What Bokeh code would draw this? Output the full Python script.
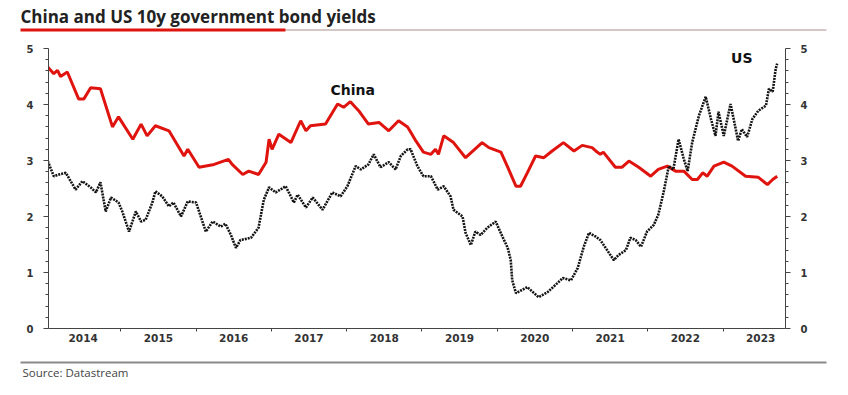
from bokeh.plotting import figure
from bokeh.models import FixedTicker, LinearAxis, Label, Range1d
from bokeh.layouts import column, row
from bokeh.embed import file_html
from bokeh.resources import INLINE

# ---------------- data (fractional years, yield %) ----------------
china_t = [2014.03, 2014.11, 2014.16, 2014.20, 2014.29, 2014.44, 2014.51, 2014.60, 2014.73,
           2014.89, 2014.97, 2015.16, 2015.27, 2015.35, 2015.46, 2015.64, 2015.84, 2015.89,
           2016.04, 2016.24, 2016.43, 2016.48, 2016.62, 2016.70, 2016.83, 2016.93, 2016.97,
           2017.01, 2017.10, 2017.26, 2017.39, 2017.46, 2017.52, 2017.72, 2017.88, 2017.96,
           2018.05, 2018.16, 2018.29, 2018.43, 2018.56, 2018.69, 2018.81, 2018.85, 2018.92,
           2019.02, 2019.12, 2019.18, 2019.22, 2019.29, 2019.42, 2019.58, 2019.80, 2019.89,
           2020.05, 2020.14, 2020.25, 2020.31, 2020.40, 2020.51, 2020.62, 2020.73, 2020.88,
           2021.02, 2021.13, 2021.26, 2021.31, 2021.37, 2021.41, 2021.57, 2021.66, 2021.75,
           2021.88, 2022.04, 2022.14, 2022.26, 2022.37, 2022.48, 2022.59, 2022.66, 2022.73,
           2022.79, 2022.88, 2023.01, 2023.12, 2023.30, 2023.47, 2023.59, 2023.66, 2023.72]
china_v = [4.67, 4.55, 4.61, 4.50, 4.58, 4.10, 4.10, 4.30, 4.28,
           3.60, 3.78, 3.38, 3.65, 3.44, 3.62, 3.53, 3.08, 3.20,
           2.88, 2.93, 3.02, 2.93, 2.75, 2.81, 2.75, 2.97, 3.38,
           3.20, 3.47, 3.32, 3.71, 3.53, 3.62, 3.65, 4.01, 3.95,
           4.05, 3.89, 3.65, 3.68, 3.53, 3.71, 3.60, 3.51, 3.35,
           3.15, 3.11, 3.20, 3.11, 3.44, 3.32, 3.05, 3.32, 3.23,
           3.15, 2.88, 2.54, 2.54, 2.78, 3.08, 3.05, 3.17, 3.32,
           3.17, 3.27, 3.23, 3.17, 3.11, 3.15, 2.88, 2.88, 2.99,
           2.88, 2.72, 2.84, 2.90, 2.81, 2.81, 2.66, 2.66, 2.78,
           2.72, 2.90, 2.97, 2.90, 2.72, 2.70, 2.57, 2.66, 2.72]

us_t = [2014.03, 2014.11, 2014.18, 2014.27, 2014.40, 2014.49, 2014.60, 2014.67, 2014.73,
        2014.80, 2014.87, 2014.97, 2015.02, 2015.11, 2015.20, 2015.27, 2015.33, 2015.42,
        2015.46, 2015.55, 2015.64, 2015.70, 2015.80, 2015.89, 2016.00, 2016.13, 2016.22,
        2016.33, 2016.39, 2016.46, 2016.53, 2016.59, 2016.73, 2016.83, 2016.90, 2016.97,
        2017.06, 2017.19, 2017.30, 2017.35, 2017.46, 2017.55, 2017.68, 2017.81, 2017.92,
        2018.01, 2018.12, 2018.19, 2018.29, 2018.36, 2018.45, 2018.56, 2018.65, 2018.72,
        2018.81, 2018.85, 2018.94, 2019.02, 2019.12, 2019.21, 2019.29, 2019.38, 2019.42,
        2019.54, 2019.58, 2019.65, 2019.71, 2019.78, 2019.87, 2019.98, 2020.07, 2020.14,
        2020.18, 2020.20, 2020.25, 2020.40, 2020.55, 2020.67, 2020.80, 2020.87, 2020.98,
        2021.07, 2021.15, 2021.22, 2021.31, 2021.37, 2021.46, 2021.55, 2021.61, 2021.71,
        2021.77, 2021.84, 2021.91, 2021.99, 2022.08, 2022.14, 2022.21, 2022.28, 2022.34,
        2022.41, 2022.48, 2022.53, 2022.59, 2022.68, 2022.77, 2022.84, 2022.90, 2022.94,
        2023.01, 2023.10, 2023.16, 2023.20, 2023.25, 2023.32, 2023.39, 2023.47, 2023.57,
        2023.61, 2023.66, 2023.70, 2023.72]
us_v = [2.99, 2.72, 2.75, 2.78, 2.48, 2.63, 2.52, 2.43, 2.61,
        2.09, 2.34, 2.25, 2.09, 1.73, 2.09, 1.91, 1.94, 2.25,
        2.45, 2.36, 2.18, 2.25, 2.00, 2.27, 2.25, 1.73, 1.91,
        1.82, 1.87, 1.68, 1.44, 1.58, 1.62, 1.80, 2.30, 2.52,
        2.43, 2.54, 2.25, 2.39, 2.16, 2.34, 2.12, 2.43, 2.36,
        2.54, 2.90, 2.84, 2.93, 3.11, 2.88, 2.97, 2.84, 3.08,
        3.20, 3.20, 2.90, 2.72, 2.72, 2.48, 2.54, 2.36, 2.12,
        2.00, 1.71, 1.49, 1.73, 1.67, 1.80, 1.91, 1.64, 1.44,
        1.22, 0.86, 0.63, 0.74, 0.56, 0.65, 0.81, 0.90, 0.86,
        1.08, 1.46, 1.71, 1.64, 1.58, 1.40, 1.22, 1.31, 1.40,
        1.62, 1.58, 1.46, 1.73, 1.85, 2.03, 2.43, 2.90, 2.84,
        3.38, 3.02, 2.81, 3.32, 3.80, 4.14, 3.74, 3.44, 3.87,
        3.44, 4.01, 3.62, 3.35, 3.56, 3.42, 3.74, 3.89, 3.98,
        4.28, 4.23, 4.64, 4.73]

year_labels = ["2014", "2015", "2016", "2017", "2018", "2019", "2020", "2021", "2022", "2023"]
y_ticks = [0, 1, 2, 3, 4, 5]

title_text = "China and US 10y government bond yields"
source_text = "Source: Datastream"

W = 840
RED = "#e0140f"

# ---------------- header (title + rules) ----------------
hdr = figure(width=W, height=40, output_backend="svg", toolbar_location=None,
             x_range=Range1d(0, W), y_range=Range1d(40, 0),
             x_axis_type=None, y_axis_type=None, min_border=0)
hdr.grid.visible = False
hdr.outline_line_color = None
hdr.add_layout(Label(x=20, y=16, text=title_text, text_font="Open Sans",
                     text_font_style="bold", text_font_size="17px", text_color="#222222",
                     text_baseline="alphabetic"))
hdr.segment(x0=[285], y0=[29.5], x1=[826], y1=[29.5], line_color="#c9b5b5", line_width=1.6)
hdr.segment(x0=[20], y0=[29.5], x1=[285], y1=[29.5], line_color=RED, line_width=3)

# ---------------- main chart ----------------
p = figure(width=W, height=315, output_backend="svg", toolbar_location=None,
           x_range=Range1d(2014.04, 2023.83), y_range=Range1d(0, 5),
           min_border_left=48, min_border_right=W - 785, min_border_top=8,
           min_border_bottom=27)
p.grid.visible = False
p.outline_line_color = None

p.line(china_t, china_v, line_color=RED, line_width=3)
p.line(us_t, us_v, line_color="#141414", line_width=2.6, line_dash="2 1")

first_year = int(year_labels[0])
label_pos = [first_year + i + 0.5 for i in range(len(year_labels))]
bounds = [first_year + i for i in range(1, len(year_labels) + 1)]
xa = p.xaxis[0]
xa.ticker = FixedTicker(ticks=label_pos, minor_ticks=bounds)
xa.major_label_overrides = {pos: lab for pos, lab in zip(label_pos, year_labels)}
xa.major_tick_in = 0
xa.major_tick_out = 0
xa.minor_tick_in = 0
xa.minor_tick_out = 3
xa.axis_line_color = "#444444"
xa.minor_tick_line_color = "#444444"
xa.major_label_text_font = "DejaVu Sans"
xa.major_label_text_font_style = "bold"
xa.major_label_text_font_size = "10.5px"
xa.major_label_text_color = "#333333"
xa.major_label_standoff = 2

minor_y = [round(i * 0.2, 1) for i in range(26) if i % 5 != 0]

def style_y(ax):
    ax.ticker = FixedTicker(ticks=y_ticks, minor_ticks=minor_y)
    ax.major_tick_in = 0
    ax.major_tick_out = 5
    ax.minor_tick_in = 0
    ax.minor_tick_out = 3
    ax.axis_line_color = "#444444"
    ax.major_tick_line_color = "#444444"
    ax.minor_tick_line_color = "#444444"
    ax.major_label_text_font = "DejaVu Sans"
    ax.major_label_text_font_style = "bold"
    ax.major_label_text_font_size = "10px"
    ax.major_label_text_color = "#333333"
    ax.major_label_standoff = 10

style_y(p.yaxis[0])
ra = LinearAxis()
style_y(ra)
p.add_layout(ra, "right")

p.add_layout(Label(x=2018.08, y=4.26, text="China", text_font="DejaVu Sans",
                   text_font_style="bold", text_font_size="14px", text_color="#111111",
                   text_align="center", text_baseline="middle"))
p.add_layout(Label(x=2023.25, y=4.83, text="US", text_font="DejaVu Sans",
                   text_font_style="bold", text_font_size="14px", text_color="#111111",
                   text_align="center", text_baseline="middle"))

# ---------------- footer (rule + source) ----------------
ftr = figure(width=W, height=35, output_backend="svg", toolbar_location=None,
             x_range=Range1d(0, W), y_range=Range1d(35, 0),
             x_axis_type=None, y_axis_type=None, min_border=0)
ftr.grid.visible = False
ftr.outline_line_color = None
ftr.segment(x0=[20], y0=[7], x1=[826], y1=[7], line_color="#8a8a8a", line_width=2)
ftr.add_layout(Label(x=22, y=17, text=source_text, text_font="Open Sans",
                     text_font_size="11.5px", text_color="#444444",
                     text_baseline="alphabetic"))

layout = column(row(hdr), p, row(ftr), spacing=0)
open("out.html", "w").write(file_html(layout, INLINE))
